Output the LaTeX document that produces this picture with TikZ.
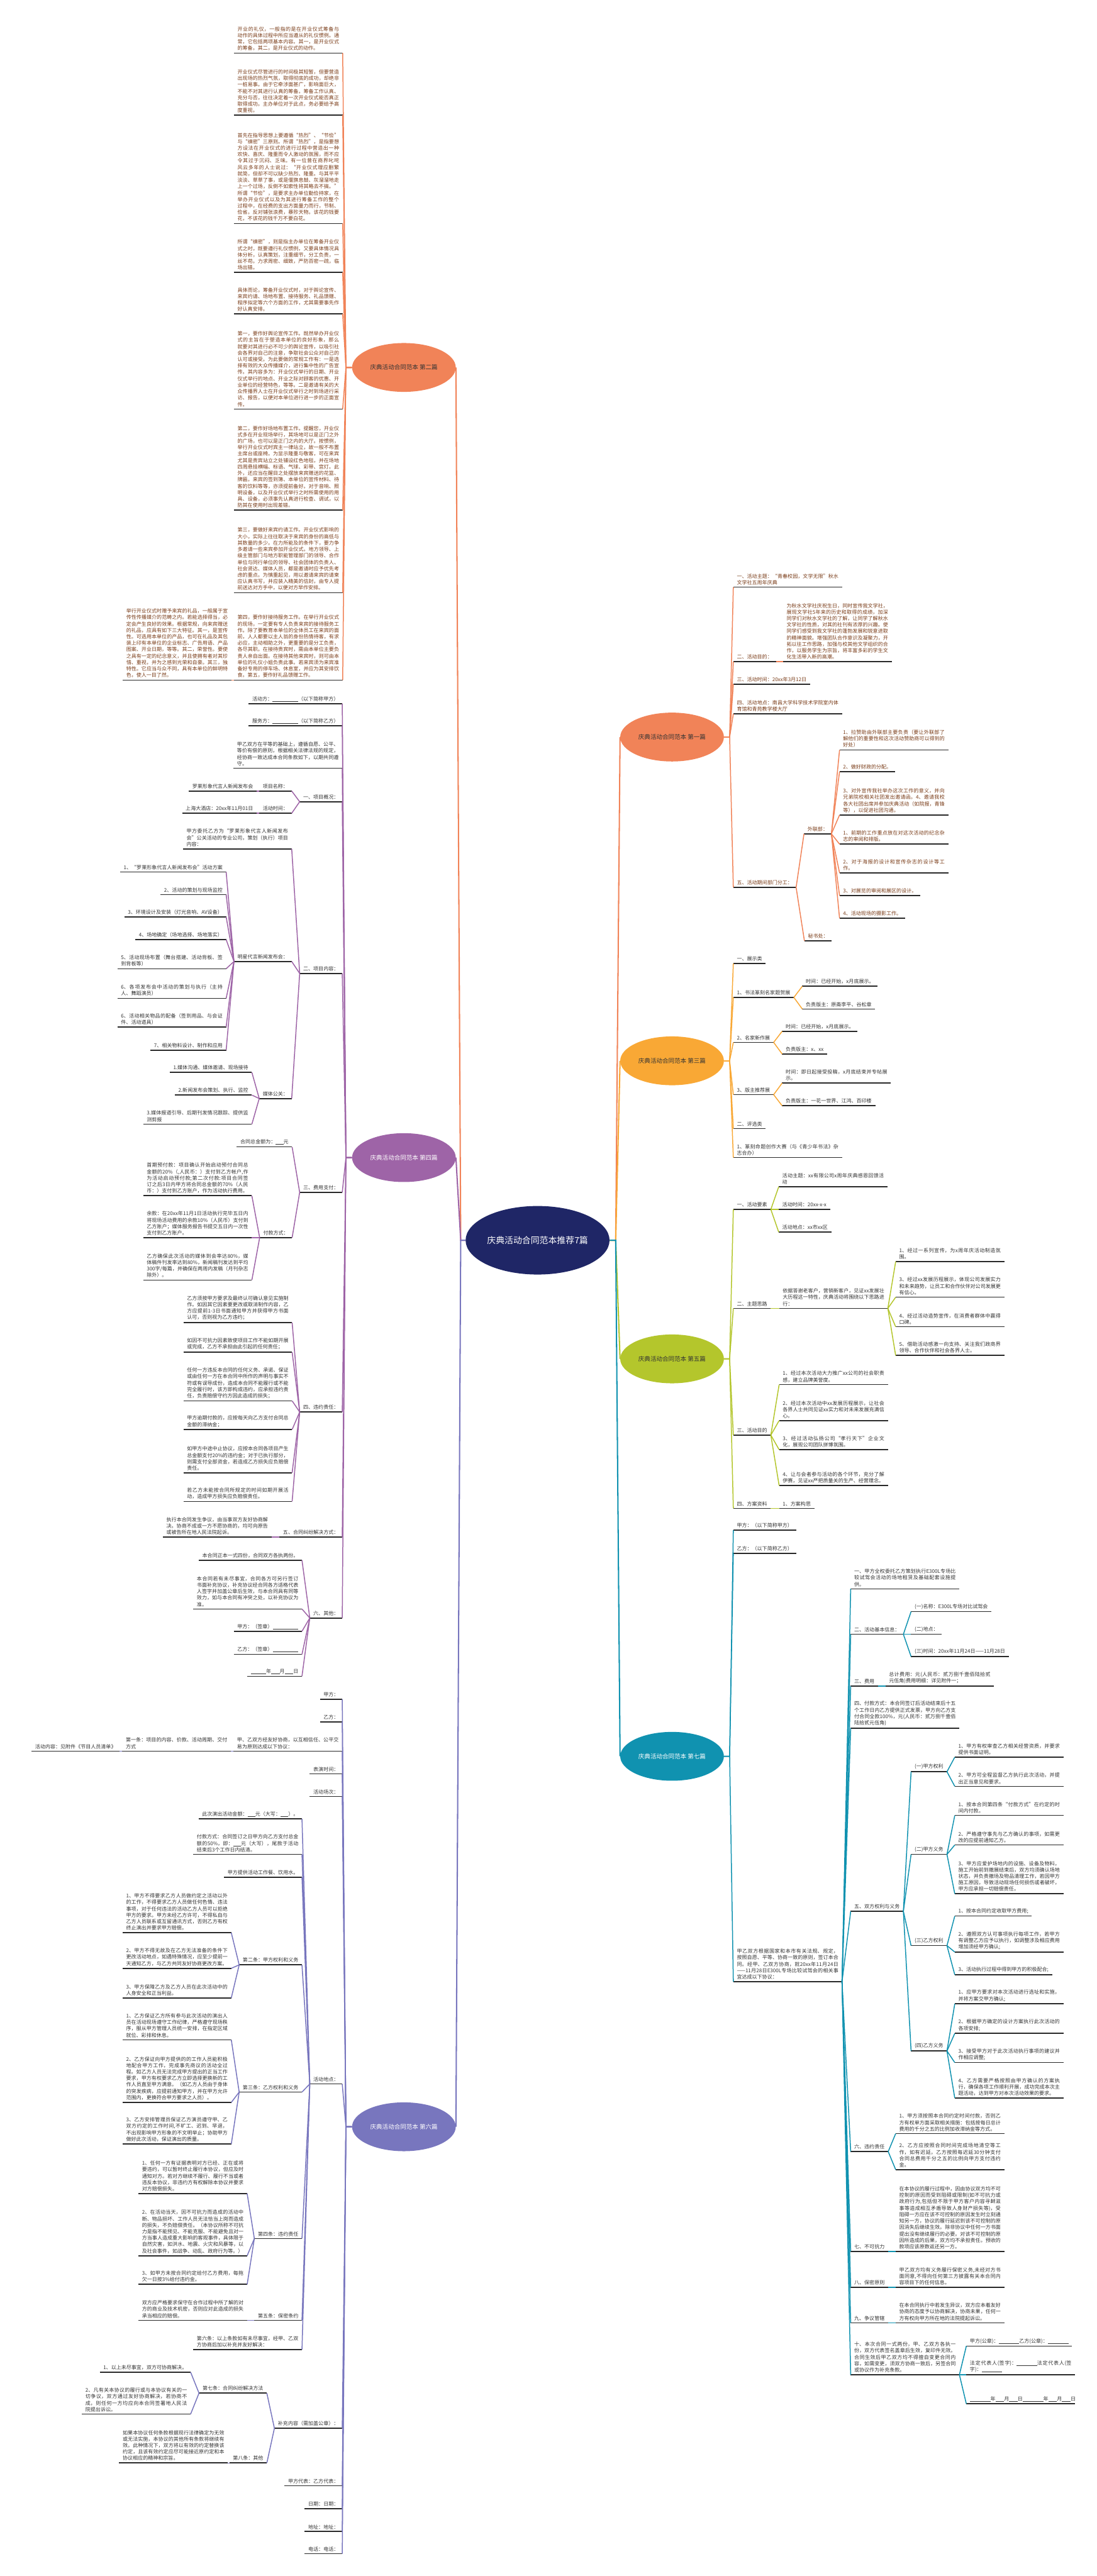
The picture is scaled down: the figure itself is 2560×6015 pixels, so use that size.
\documentclass[tikz,border=0pt]{standalone}
\usepackage{fontspec}
\setmainfont{Noto Sans CJK SC}
\usetikzlibrary{shapes.geometric}
\XeTeXlinebreaklocale "zh"
\XeTeXlinebreakskip=0pt plus 0.4pt

\definecolor{navy}{RGB}{31,38,102}
\definecolor{orng}{RGB}{241,131,88}
\definecolor{gold}{RGB}{249,168,53}
\definecolor{purp}{RGB}{158,100,167}
\definecolor{lime}{RGB}{180,198,44}
\definecolor{tealb}{RGB}{16,146,176}
\definecolor{peri}{RGB}{120,118,190}
\definecolor{ink}{RGB}{51,51,51}
\definecolor{inkb}{RGB}{122,60,24}
\definecolor{ulc}{RGB}{40,40,40}

\newcommand\tx{\fontsize{5.9pt}{7.5pt}\selectfont\parindent=0pt}
\newcommand\kong[1]{\rule[-0.8pt]{#1}{0.45pt}}

\tikzset{
  base/.style={inner xsep=4pt, inner ysep=2.5pt, font=\tx, text=ink,
    append after command={(\tikzlastnode.south west) edge[uline] (\tikzlastnode.south east)}},
  lf/.style={base, anchor=south east},
  rt/.style={base, anchor=south west},
  par/.style={text width=118.5pt, align=justify},
  uline/.style={draw=ulc, line width=1.2pt},
  link/.style={line width=1.1pt},
  topic/.style={ellipse, minimum width=121pt, minimum height=57pt, inner sep=0pt,
    font=\fontsize{7pt}{8.5pt}\selectfont},
}

\begin{document}
\begin{tikzpicture}[x=0.5pt, y=-0.5pt]
\useasboundingbox (0,0) rectangle (2560,6015);
\fill[white] (0,0) rectangle (2560,6015);

% centre and topics
\node[ellipse, fill=navy, minimum width=168pt, minimum height=80pt, inner sep=0pt,
  text=white, font=\fontsize{10.2pt}{12pt}\selectfont] (root) at (1255,2896) {庆典活动合同范本推荐7篇};

\node[topic, fill=orng, text=ink] (t2) at (943,858) {庆典活动合同范本 第二篇};
\node[topic, fill=purp, text=white] (t4) at (943,2703) {庆典活动合同范本 第四篇};
\node[topic, fill=peri, text=white] (t6) at (943,4966) {庆典活动合同范本 第六篇};
\node[topic, fill=orng, text=ink] (t1) at (1569,1721) {庆典活动合同范本 第一篇};
\node[topic, fill=gold, text=ink] (t3) at (1569,2477) {庆典活动合同范本 第三篇};
\node[topic, fill=lime, text=ink] (t5) at (1569,3173) {庆典活动合同范本 第五篇};
\node[topic, fill=tealb, text=white] (t7) at (1569,4101) {庆典活动合同范本 第七篇};

\foreach \t/\c in {t2/orng,t4/purp,t6/peri}
    \draw[link, \c, line width=1.5pt] (root.west) -- ++(-11,0) -- (\t.east);
\foreach \t/\c in {t1/orng,t3/gold,t5/lime,t7/tealb}
    \draw[link, \c, line width=1.5pt] (root.east) -- ++(14,0) -- (\t.west);

% 第二篇
\begin{scope}[base/.append style={text=inkb}]
\node[lf, par] (a1) at (800,124) {开业的礼仪，一般指的是在开业仪式筹备与动作的具体过程中所应当遵从的礼仪惯例。通常，它包括两项基本内容。其一，是开业仪式的筹备。其二，是开业仪式的动作。};
\node[lf, par] (a2) at (800,269) {开业仪式尽管进行的时间极其短暂，但要营造出现场的热烈气氛，取得彻底的成功，却绝非一桩易事。由于它牵涉面甚广，影响面巨大，不能不对其进行认真的筹备。筹备工作认真、充分与否，往往决定着一次开业仪式能否真正取得成功。主办单位对于此点，务必要给予高度重视。};
\node[lf, par] (a3) at (800,522) {首先在指导思想上要遵循“热烈”、“节俭”与“缜密”三原则。所谓“热烈”，是指要想方设法在开业仪式的进行过程中营造出一种欢快、喜庆、隆重而令人激动的氛围，而不应令其过于沉闷、乏味。有一位曾在商界叱咤风云多年的人士说过：“开业仪式理应删繁就简，但却不可以缺少热烈、隆重。与其平平淡淡、草草了事，或是偃旗息鼓、灰溜溜地走上一个过场，反倒不如索性将其略去不搞。”所谓“节俭”，是要求主办单位勤俭持家，在举办开业仪式以及为其进行筹备工作的整个过程中，在经费的支出方面量力而行，节制、俭省。反对铺张浪费，暴殄天物。该花的钱要花，不该花的钱千万不要白花。};
\node[lf, par] (a4) at (800,636) {所谓“缜密”，则是指主办单位在筹备开业仪式之时，既要遵行礼仪惯例，又要具体情况具体分析，认真策划，注重细节，分工负责，一丝不苟。力求周密、细致，严防百密一疏，临场出错。};
\node[lf, par] (a5) at (800,733) {具体而论，筹备开业仪式时，对于舆论宣传、来宾约请、场地布置、接待服务、礼品馈赠、程序拟定等六个方面的工作，尤其需要事先作好认真安排。};
\node[lf, par] (a6) at (800,955) {第一，要作好舆论宣传工作。既然举办开业仪式的主旨在于塑造本单位的良好形象，那么就要对其进行必不可少的舆论宣传，以吸引社会各界对自己的注意，争取社会公众对自己的认可或接受。为此要做的常规工作有：一是选择有效的大众传播媒介，进行集中性的广告宣传。其内容多为：开业仪式举行的日期、开业仪式举行的地点、开业之际对顾客的优惠、开业单位的经营特色，等等。二是邀请有关的大众传播界人士在开业仪式举行之时到场进行采访、报告，以便对本单位进行进一步的正面宣传。};
\node[lf, par] (a7) at (800,1191) {第二，要作好场地布置工作。提醒您，开业仪式多在开业现场举行，其场地可以是正门之外的广场，也可以是正门之内的大厅。按惯例，举行开业仪式时宾主一律站立，故一般不布置主席台或座椅。为显示隆重与敬客，可在来宾尤其是贵宾站立之处铺设红色地毯，并在场地四周悬挂横幅、标语、气球、彩带、宫灯。此外，还应当在醒目之处摆放来宾赠送的花篮、牌匾。来宾的签到簿、本单位的宣传材料、待客的饮料等等，亦须提前备好。对于音响、照明设备，以及开业仪式举行之时所需使用的用具、设备，必须事先认真进行检查、调试，以防其在使用时出现差错。};
\node[lf, par] (a8) at (800,1384) {第三，要做好来宾约请工作。开业仪式影响的大小，实际上往往取决于来宾的身份的高低与其数量的多少。在力所能及的条件下，要力争多邀请一些来宾参加开业仪式。地方领导、上级主管部门与地方职能管理部门的领导、合作单位与同行单位的领导、社会团体的负责人、社会贤达、媒体人员，都是邀请时应予优先考虑的重点。为慎重起见，用以邀请来宾的请柬应认真书写，并应装入精美的信封，由专人提前送达对方手中，以便对方早作安排。};
\node[lf, par] (a9) at (800,1588) {第四，要作好接待服务工作。在举行开业仪式的现场，一定要有专人负责来宾的接待服务工作。除了要教育本单位的全体员工在来宾的面前，人人都要以主人翁的身份热情待客，有求必应，主动相助之外，更重要的是分工负责，各尽其职。在接待贵宾时，需由本单位主要负责人亲自出面。在接待其他来宾时，则可由本单位的礼仪小姐负责此事。若来宾须为来宾准备好专用的停车场、休息室，并应为其安排饮食。第五，要作好礼品馈赠工作。};
\node[lf, par] (a10) at ([xshift=-3pt]a9.south west) {举行开业仪式时赠予来宾的礼品，一般属于宣传性传播媒介的范畴之内。若能选择得当，必定会产生良好的效果。根据常规，向来宾赠送的礼品，应具有如下三大特征。其一，是宣传性。可选用本单位的产品，也可在礼品及其包装上印有本单位的企业标志、广告用语、产品图案、开业日期，等等。其二，荣誉性。要使之具有一定的纪念意义，并且使拥有者对其珍惜、重视，并为之感到光荣和自豪。其三，独特性。它应当与众不同，具有本单位的鲜明特色，使人一目了然。};
\end{scope}

\foreach \n in {a1,a2,a3,a4,a5,a6,a7,a8,a9}
    \draw[link, orng] (t2.west) -- ++(-14,0) -- (\n.south east);
\draw[link, orng] (a9.south west) -- (a10.south east);

% 第四篇
\node[lf] (b1) at (799,1643) {活动方：\kong{30pt}（以下简称甲方）};
\node[lf] (b2) at (799,1695) {服务方：\kong{30pt}（以下简称乙方）};
\node[lf, par] (b3) at (799,1794) {甲乙双方在平等的基础上，遵循自愿、公平、等价有偿的原则，根据相关法律法规的规定，经协商一致达成本合同条款如下，以期共同遵守。};
\node[lf] (b4) at (799,1872) {一、项目概况：};
\node[lf] (b41) at (681,1847) {项目名称：};
\node[lf] (b41a) at ([xshift=-3pt]b41.south west) {罗莱形象代言人新闻发布会};
\node[lf] (b42) at (681,1899) {活动时间：};
\node[lf] (b42a) at ([xshift=-3pt]b42.south west) {上海大酒店：20xx年11月01日};
\node[lf] (b5) at (799,2273) {二、项目内容：};
\node[lf, par] (b51) at (681,1982) {甲方委托乙方为“罗莱形象代言人新闻发布会”公关活动的专业公司，策划（执行）项目内容：};
\node[lf] (b52) at (681,2245) {明星代言新闻发布会：};
\node[lf] (b521) at (528,2036) {1、“罗莱形象代言人新闻发布会”活动方案};
\node[lf] (b522) at (528,2089) {2、活动的策划与现场监控};
\node[lf] (b523) at (528,2141) {3、环境设计及安装（灯光音响、AV设备）};
\node[lf] (b524) at (528,2194) {4、场地确定（场地选择、场地落实）};
\node[lf, par] (b525) at (528,2262) {5、活动现场布置（舞台搭建、活动背板、签到背板等）};
\node[lf, par] (b526) at (528,2331) {6、各项发布会中活动的策划与执行（主持人、舞蹈演员）};
\node[lf, par] (b527) at (528,2398) {6、活动相关物品的配备（签到用品、与会证件、活动道具）};
\node[lf] (b528) at (528,2452) {7、相关物料设计、制作和应用};
\node[lf] (b53) at (681,2565) {媒体公关：};
\node[lf] (b531) at (588,2504) {1.媒体沟通、媒体邀请、现场接待};
\node[lf] (b532) at (588,2557) {2.新闻发布会策划、执行、监控};
\node[lf, par] (b533) at (588,2625) {3.媒体报道引导、后期刊发情况跟踪、提供监测剪报};
\node[lf] (b6) at (799,2784) {三、费用支付：};
\node[lf] (b61) at (682,2678) {合同总金额为：\kong{9pt}元};
\node[lf] (b62) at (682,2890) {付款方式：};
\node[lf, par] (b621) at (588,2792) {首期预付款：项目确认开始启动预付合同总金额的20\%（,人民币：）支付到乙方帐户,作为活动启动预付款;第二次付款:项目合同签订之后3日内甲方将合同总金额的70\%（人民币：）支付到乙方账户，作为活动执行费用。};
\node[lf, par] (b622) at (588,2890) {余款：在20xx年11月1日活动执行完毕五日内将现场活动费用的余款10\%（人民币）支付到乙方账户；媒体服务报告书提交五日内一次性支付到乙方账户。};
\node[lf, par] (b623) at (588,2989) {乙方确保此次活动的媒体到会率达80\%，媒体稿件刊发率达到80\%，新闻稿刊发达到平均300字/每篇，并确保在两周内发稿（月刊杂志除外）。};
\node[lf] (b7) at (799,3297) {四、违约责任：};
\node[lf, par] (b71) at (682,3088) {乙方须按甲方要求及最终认可确认意见实施制作。如因其它因素要更改或取消制作内容，乙方应提前1-3日书面通知甲方并获得甲方书面认可，否则视为乙方违约；};
\node[lf, par] (b72) at (682,3157) {如因不可抗力因素致使项目工作不能如期开展或完成，乙方不承担由此引起的任何责任；};
\node[lf, par] (b73) at (682,3271) {任何一方违反本合同的任何义务、承诺、保证或由任何一方在本合同中所作的声明与事实不符或有误导成份，造成本合同不能履行或不能完全履行时，该方即构成违约，应承担违约责任，负责赔偿守约方因此造成的损失；};
\node[lf, par] (b74) at (682,3338) {甲方逾期付款的，应按每天向乙方支付合同总金额的滞纳金；};
\node[lf, par] (b75) at (682,3439) {如甲方中途中止协议，应按本合同各项目产生总金额支付20\%的违约金；对于已执行部分，则需支付全部资金，若造成乙方损失应负赔偿责任。};
\node[lf, par] (b76) at (682,3506) {若乙方未能按合同所规定的时间如期开展活动，造成甲方损失应负赔偿责任。};
\node[lf] (b8) at (799,3589) {五、合同纠纷解决方式：};
\node[lf, par] (b81) at (634,3589) {执行本合同发生争议，由当事双方友好协商解决。协商不成或一方不愿协商的，均可向原告或被告所在地人民法院起诉。};
\node[lf] (b9) at (799,3778) {六、其他：};
\node[lf] (b91) at (705,3643) {本合同正本一式四份，合同双方各执两份。};
\node[lf, par] (b92) at (705,3757) {本合同若有未尽事宜，合同各方可另行签订书面补充协议，补充协议经合同各方适格代表人签字并加盖公章后生效，与本合同具有同等效力，如与本合同有冲突之处，以补充协议为准。};
\node[lf] (b93) at (705,3809) {甲方：（签章）\kong{30pt}};
\node[lf] (b94) at (705,3863) {乙方：（签章）\kong{30pt}};
\node[lf] (b95) at (705,3914) {\kong{18pt}年\kong{10pt}月\kong{10pt}日};

\foreach \n in {b1,b2,b3,b4,b5,b6,b7,b8,b9}
    \draw[link, purp] (t4.west) -- ++(-14,0) -- (\n.south east);
\foreach \p/\n in {b4/b41,b4/b42,b41/b41a,b42/b42a,b5/b51,b5/b52,b5/b53,
    b52/b521,b52/b522,b52/b523,b52/b524,b52/b525,b52/b526,b52/b527,b52/b528,
    b53/b531,b53/b532,b53/b533,b6/b61,b6/b62,b62/b621,b62/b622,b62/b623,
    b7/b71,b7/b72,b7/b73,b7/b74,b7/b75,b7/b76,b8/b81,
    b9/b91,b9/b92,b9/b93,b9/b94,b9/b95}
    \draw[link, purp] (\p.south west) -- (\n.south east);

% 第六篇
\node[lf] (d1) at (799,3968) {甲方：};
\node[lf] (d2) at (799,4021) {乙方：};
\node[lf, par] (d3) at (799,4089) {甲、乙双方经友好协商，以互相信任、公平交易为原则达成以下协议：};
\node[lf, par] (d31) at ([xshift=-3pt]d3.south west) {第一条：项目的内容、价款、活动周期、交付方式};
\node[lf] (d311) at ([xshift=-3pt]d31.south west) {活动内容：见附件《节目人员清单》};
\node[lf] (d4) at (799,4142) {表演时间：};
\node[lf] (d5) at (799,4195) {活动场次：};
\node[lf] (d6) at (799,4866) {活动地点：};
\node[lf] (d61) at (705,4247) {此次演出活动金额：\kong{9pt}元（大写：\kong{9pt}）。};
\node[lf, par] (d62) at (705,4330) {付款方式：合同签订之日甲方向乙方支付总金额的50\%，即：\kong{9pt}元（大写），尾款于活动结束后3个工作日内结清。};
\node[lf] (d63) at (705,4383) {甲方提供活动工作餐、饮用水。};
\node[lf] (d64) at (705,4588) {第二条：甲方权利和义务};
\node[lf, par] (d641) at (540,4513) {1、甲方不得要求乙方人员做约定之活动以外的工作，不得要求乙方人员做任何色情、违法事项，对于任何违法的活动乙方人员可以拒绝甲方的要求。甲方未经乙方许可，不得私自与乙方人员联系或互留通讯方式，否则乙方有权终止演出并要求甲方赔偿。};
\node[lf, par] (d642) at (540,4596) {2、甲方不得无故及在乙方无法准备的条件下更改活动地点，如遇特殊情况，应至少提前一天通知乙方，与乙方共同友好协商更改方案。};
\node[lf, par] (d643) at (540,4665) {3、甲方保障乙方及乙方人员在此次活动中的人身安全和正当利益。};
\node[lf] (d65) at (705,4885) {第三条：乙方权利和义务};
\node[lf, par] (d651) at (540,4763) {1、乙方保证乙方所有参与此次活动的演出人员在活动现场遵守工作纪律，严格遵守现场秩序，服从甲方管理人员统一安排，在指定区域就位、彩排和休息。};
\node[lf, par] (d652) at (540,4909) {2、乙方保证向甲方提供的的工作人员能积极地配合甲方工作，完成事先商议的活动全过程。如乙方人员无法完成甲方提出的正当工作要求，甲方有权要求乙方立即选择更换新的工作人员直至甲方满意。（如乙方人员由于身体的突发疾病，应提前通知甲方，并在甲方允许范围内，更换符合甲方要求之人员）。};
\node[lf, par] (d653) at (540,5006) {3、乙方安排管理员保证乙方演员遵守甲、乙双方约定的工作时间,不旷工、迟到、早退，不出现影响甲方形象的不文明举止；协助甲方做好此次活动，保证演出的质量。};
\node[lf] (d66) at (705,5227) {第四条：违约责任};
\node[lf, par] (d661) at (577,5122) {1、任何一方有证据表明对方已经、正在或将要违约，可以暂时终止履行本协议，但应及时通知对方。若对方继续不履行、履行不当或者违反本协议，非违约方有权解除本协议并要求对方赔偿损失。};
\node[lf, par] (d662) at (577,5267) {2、在活动当天，因不可抗力而造成的活动中断、物品损坏、工作人员无法恰当上岗而造成的损失，不负赔偿责任。（本协议所称不可抗力是指不能预见、不能克服、不能避免且对一方当事人造成重大影响的客观事件，具体限于自然灾害，如洪水、地震、火灾和风暴等，以及社会事件，如战争、动乱、政府行为等。）};
\node[lf, par] (d663) at (577,5334) {3、如甲方未按合同约定给付乙方费用，每拖欠一日按3\%给付违约金。};
\node[lf] (d67) at (705,5418) {第五条：保密条约};
\node[lf, par] (d671) at (577,5418) {双方应严格要求保守在合作过程中所了解的对方的商业及技术机密，否则应对此造成的损失承当相应的赔偿。};
\node[lf, par] (d68) at (705,5486) {第六条：以上条款如有未尽事宜，经甲、乙双方协商后加以补充并友好解决：};
\node[lf] (d7) at (799,5670) {补充内容（需加盖公章）：};
\node[lf] (d71) at (623,5588) {第七条：合同纠纷解决方法};
\node[lf] (d711) at (445,5539) {1、以上未尽事宜，双方可协商解决。};
\node[lf, par] (d712) at (445,5637) {2、凡有关本协议的履行或与本协议有关的一切争议，双方通过友好协商解决，若协商不成，则任何一方均应向本合同签署地人民法院提出诉讼。};
\node[lf] (d72) at (623,5751) {第八条：其他};
\node[lf, par] (d721) at (532,5751) {如果本协议任何条款根据现行法律确定为无效或无法实施，本协议的其他所有条款将继续有效。此种情况下，双方将以有效的约定替换该约定，且该有效约定应尽可能接近原约定和本协议相应的精神和宗旨。};
\node[lf] (d8) at (799,5804) {甲方代表：乙方代表：};
\node[lf] (d9) at (799,5858) {日期：日期：};
\node[lf] (d10) at (799,5911) {地址：地址：};
\node[lf] (d11) at (799,5963) {电话：电话：};

\foreach \n in {d1,d2,d3,d4,d5,d6,d7,d8,d9,d10,d11}
    \draw[link, peri] (t6.west) -- ++(-14,0) -- (\n.south east);
\foreach \p/\n in {d3/d31,d31/d311,d6/d61,d6/d62,d6/d63,d6/d64,d6/d65,d6/d66,d6/d67,d6/d68,
    d64/d641,d64/d642,d64/d643,d65/d651,d65/d652,d65/d653,d66/d661,d66/d662,d66/d663,
    d67/d671,d7/d71,d7/d72,d71/d711,d71/d712,d72/d721}
    \draw[link, peri] (\p.south west) -- (\n.south east);

% 第一篇
\begin{scope}[base/.append style={text=inkb}]
\node[rt, par] (e1) at (1712,1371) {一、活动主题：“青春校园，文学无限”秋水文学社五周年庆典};
\node[rt] (e2) at (1712,1545) {二、活动目的：};
\node[rt, par] (e21) at (1828,1545) {为秋水文学社庆祝生日，同时宣传我文学社，展现文学社5年来的历史和取得的成绩，加深同学们对秋水文学社的了解，让同学了解秋水文学社的性质，对其的社刊有浓厚的兴趣。使同学们感受到我文学社的蓬勃发展和锐意进取的精神面貌。增强团队合作意识及凝聚力，开拓以往工作思路，加强与校其他文学组织的合作，以服务学生为宗旨，将丰富多彩的学生文化生活带入新的高潮。};
\node[rt] (e3) at (1712,1598) {三、活动时间：20xx年3月12日};
\node[rt, par] (e4) at (1712,1667) {四、活动地点：南昌大学科学技术学院室内体育馆和青苑教学楼大厅};
\node[rt] (e5) at (1712,2072) {五、活动期间部门分工：};
\node[rt] (e51) at (1877,1947) {外联部：};
\node[rt, par] (e511) at (1960,1751) {1、拉赞助由外联部主要负责（要让外联部了解他们的重要性和这次活动赞助商可以得到的好处）};
\node[rt] (e512) at (1960,1802) {2、做好财政的分配。};
\node[rt, par] (e513) at (1960,1903) {3、对外宣传我社举办这次工作的意义，并向兄弟院校相关社团发出邀请函。4、邀请我校各大社团出席并参加庆典活动（如院报，青锋等），以促进社团沟通。};
\node[rt, par] (e514) at (1960,1971) {1、前期的工作重点放在对这次活动的纪念杂志的审阅和排版。};
\node[rt, par] (e515) at (1960,2038) {2、对于海报的设计和宣传杂志的设计等工作。};
\node[rt] (e516) at (1960,2091) {3、对展览的审阅和展区的设计。};
\node[rt] (e517) at (1960,2144) {4、活动现场的摄影工作。};
\node[rt] (e52) at (1878,2197) {秘书处：};
\end{scope}

\foreach \n in {e1,e2,e3,e4,e5}
    \draw[link, orng] (t1.east) -- ++(13,0) -- (\n.south west);
\foreach \p/\n in {e2/e21,e5/e51,e5/e52,e51/e511,e51/e512,e51/e513,e51/e514,e51/e515,e51/e516,e51/e517}
    \draw[link, orng] (\p.south east) -- (\n.south west);

% 第三篇
\node[rt] (f1) at (1712,2250) {一、展示类};
\node[rt] (f2) at (1712,2329) {1、书法篆刻名家题贺展};
\node[rt] (f21) at (1873,2303) {时间：已经开始，x月底展示。};
\node[rt] (f22) at (1873,2356) {负责版主：原斋李平、谷松章};
\node[rt] (f3) at (1712,2434) {2、名家新作展};
\node[rt] (f31) at (1826,2408) {时间：已经开始，x月底展示。};
\node[rt] (f32) at (1826,2461) {负责版主：x、xx};
\node[rt] (f4) at (1712,2556) {3、版主推荐展};
\node[rt, par] (f41) at (1826,2529) {时间：即日起接受投稿，x月底结束并专帖展示。};
\node[rt] (f42) at (1826,2582) {负责版主：一花一世界、江鸿、百印楼};
\node[rt] (f5) at (1712,2635) {二、评选类};
\node[rt, par] (f6) at (1712,2703) {1、篆刻命题创作大赛（与《青少年书法》杂志合办）};

\foreach \n in {f1,f2,f3,f4,f5,f6}
    \draw[link, gold] (t3.east) -- ++(13,0) -- (\n.south west);
\foreach \p/\n in {f2/f21,f2/f22,f3/f31,f3/f32,f4/f41,f4/f42}
    \draw[link, gold] (\p.south east) -- (\n.south west);

% 第五篇
\node[rt] (g1) at (1712,2824) {一、活动要素};
\node[rt, par] (g11) at (1818,2771) {活动主题：xx有限公司x周年庆典感恩回馈活动};
\node[rt] (g12) at (1818,2824) {活动时间：20xx-x-x};
\node[rt] (g13) at (1818,2877) {活动地点：xx市xx区};
\node[rt] (g2) at (1712,3055) {二、主题思路};
\node[rt, par] (g21) at (1819,3055) {依据答谢老客户，营销新客户，见证xx发展壮大历程这一特性，庆典活动将围绕以下思路进行：};
\node[rt, par] (g211) at (2091,2946) {1、经过一系列宣传，为x周年庆活动制造氛围。};
\node[rt, par] (g212) at (2091,3029) {3、经过xx发展历程展示，体现公司发展实力和未来趋势，让员工和合作伙伴对公司发展更有信心。};
\node[rt, par] (g213) at (2091,3098) {4、经过活动造势宣传，在消费者群体中赢得口碑。};
\node[rt, par] (g214) at (2091,3165) {5、借助活动感激一向支持、关注我们政商界领导、合作伙伴和社会各界人士。};
\node[rt] (g3) at (1712,3351) {三、活动目的};
\node[rt, par] (g31) at (1819,3233) {1、经过本次活动大力推广xx公司的社会职责感，建立品牌美誉度。};
\node[rt, par] (g32) at (1819,3317) {2、经过本次活动中xx发展历程展示，让社会各界人士共同见证xx实力和对未来发展充满信心。};
\node[rt, par] (g33) at (1819,3385) {3、经过活动弘扬公司“孝行天下”企业文化，展现公司团队拼博氛围。};
\node[rt, par] (g34) at (1819,3469) {4、让与会者参与活动的各个环节，充分了解伊赛，见证xx严把质量关的生产、经营理念。};
\node[rt] (g4) at (1712,3522) {四、方案资料};
\node[rt] (g41) at (1819,3522) {1、方案构思};

\foreach \n in {g1,g2,g3,g4}
    \draw[link, lime] (t5.east) -- ++(13,0) -- (\n.south west);
\foreach \p/\n in {g1/g11,g1/g12,g1/g13,g2/g21,g21/g211,g21/g212,g21/g213,g21/g214,
    g3/g31,g3/g32,g3/g33,g3/g34,g4/g41}
    \draw[link, lime] (\p.south east) -- (\n.south west);

% 第七篇
\node[rt] (h1) at (1712,3573) {甲方：（以下简称甲方）};
\node[rt] (h2) at (1712,3627) {乙方：（以下简称乙方）};
\node[rt, par] (h3) at (1712,4627) {甲乙双方根据国家和本市有关法规、规定，按照自愿、平等、协商一致的原则，签订本合同。经甲、乙双方协商，就20xx年11月24日——11月28日E300L专场比较试驾会的相关事宜达成以下协议：};
\node[rt, par] (h31) at (1986,3710) {一、甲方全权委托乙方策划执行E300L专场比较试驾会活动的场地租赁及基础配套设施提供。};
\node[rt] (h32) at (1986,3816) {二、活动基本信息：};
\node[rt] (h321) at (2127,3763) {(一)名称：E300L专场对比试驾会};
\node[rt] (h322) at (2127,3816) {(二)地点：};
\node[rt] (h323) at (2127,3868) {(三)时间：20xx年11月24日——11月28日};
\node[rt] (h33) at (1986,3937) {三、费用};
\node[rt, par] (h331) at (2067,3937) {总计费用：元(人民币：贰万捌千壹佰陆拾贰元伍角)费用明细：详见附件一；};
\node[rt, par] (h34) at (1986,4035) {四、付款方式：本合同签订后活动结束后十五个工作日内乙方提供正式发票，甲方向乙方支付合同全款100\%，元(人民币：贰万捌千壹佰陆拾贰元伍角)};
\node[rt] (h35) at (1986,4463) {五、双方权利与义务};
\node[rt] (h351) at (2127,4137) {(一)甲方权利};
\node[rt, par] (h3511) at (2229,4103) {1、甲方有权审查乙方相关经营资质，并要求提供书面证明。};
\node[rt, par] (h3512) at (2229,4171) {2、甲方可全程监督乙方执行此次活动，并提出正当意见和要求。};
\node[rt] (h352) at (2127,4330) {(二)甲方义务};
\node[rt, par] (h3521) at (2229,4239) {1、按本合同第四条“付款方式”在约定的时间内付款。};
\node[rt, par] (h3522) at (2229,4308) {2、严格遵守事先与乙方确认的事项，如需更改的应提前通知乙方。};
\node[rt, par] (h3523) at (2229,4422) {3、甲方应爱护场地内的设施、设备及物料，施工开始前到撤展结束后，双方均须确认场地状态，并负责撤场及物品清理工作，若因甲方施工原因，导致活动现场任何损伤或者破坏，甲方应承担一切赔偿责任。};
\node[rt] (h353) at (2127,4543) {(三)乙方权利};
\node[rt] (h3531) at (2229,4474) {1、按本合同约定收取甲方费用;};
\node[rt, par] (h3532) at (2229,4558) {2、遵照双方认可事项执行每项工作，若甲方有调整乙方应予以执行，如调整涉及相应费用增加须经甲方确认;};
\node[rt] (h3533) at (2229,4611) {3、活动执行过程中得到甲方的积极配合;};
\node[rt] (h354) at (2127,4789) {(四)乙方义务};
\node[rt, par] (h3541) at (2229,4679) {1、应甲方要求对本次活动进行选址和实施，并将方案交甲方确认;};
\node[rt, par] (h3542) at (2229,4748) {2、根据甲方确定的设计方案执行此次活动的各项安排;};
\node[rt, par] (h3543) at (2229,4816) {3、接受甲方对于此次活动执行事项的建议并作相应调整;};
\node[rt, par] (h3544) at (2229,4899) {4、乙方需要严格按照由甲方确认的方案执行，确保各项工作顺利开展，成功完成本次主题活动，达到甲方对本次活动效果的要求。};
\node[rt] (h36) at (1986,5024) {六、违约责任};
\node[rt, par] (h361) at (2091,4982) {1、甲方须按照本合同约定时间付款，否则乙方有权单方面采取相关措施：包括按每日总计费用的千分之五的比例加收滞纳金等方式。};
\node[rt, par] (h362) at (2091,5066) {2、乙方应按照合同时间完成场地清空等工作，如有迟延，乙方按照每迟延30分钟支付合同总费用千分之五的比例向甲方支付违约金。};
\node[rt] (h37) at (1986,5257) {七、不可抗力};
\node[rt, par] (h371) at (2091,5257) {在本协议的履行过程中，因由协议双方均不可控制的原因而受到阻碍或限制(如不可抗力或政府行为,包括但不限于甲方客户内容寻衅滋事等造成相互矛盾导致人身财产损失等)，受阻碍一方应在该不可控制的原因发生时立刻通知另一方，协议的履行延迟到该不可控制的原因消失后继续生效。除非协议中任何一方书面提出没有继续履行的必要。对该不可控制的原因所造成的后果，双方均不承担责任。预收的款项应该原数返还另一方。};
\node[rt] (h38) at (1986,5341) {八、保密原则};
\node[rt, par] (h381) at (2091,5341) {甲乙双方均有义务履行保密义务,未经对方书面同意,不得向任何第三方披露有关本合同内容项目下的任何信息。};
\node[rt] (h39) at (1986,5424) {九、争议管辖};
\node[rt, par] (h391) at (2091,5424) {在本合同执行中若发生异议，双方应本着友好协商的态度予以协商解决，协商未果，任何一方有权向甲方所在地的法院提起诉讼。};
\node[rt, par] (h310) at (1986,5545) {十、本次合同一式两份，甲、乙双方各执一份，双方代表签名盖章后生效，复印件无效。合同生效后甲乙双方均不得擅自变更合同内容，如需变更，须双方协商一致后，另签合同或协议作为补充条款。};
\node[rt] (h3101) at (2256,5478) {甲方(公章)：\kong{24pt}乙方(公章)：\kong{24pt}};
\node[rt, par] (h3102) at (2256,5545) {法定代表人(签字)：\kong{24pt}法定代表人(签字)：\kong{24pt}};
\node[rt, par] (h3103) at (2256,5613) {\kong{24pt}年\kong{10pt}月\kong{10pt}日\kong{24pt}年\kong{10pt}月\kong{10pt}日};

\foreach \n in {h1,h2,h3}
    \draw[link, tealb] (t7.east) -- ++(13,0) -- (\n.south west);
\foreach \p/\n in {h3/h31,h3/h32,h3/h33,h3/h34,h3/h35,h3/h36,h3/h37,h3/h38,h3/h39,h3/h310,
    h32/h321,h32/h322,h32/h323,h33/h331,h35/h351,h35/h352,h35/h353,h35/h354,
    h351/h3511,h351/h3512,h352/h3521,h352/h3522,h352/h3523,
    h353/h3531,h353/h3532,h353/h3533,h354/h3541,h354/h3542,h354/h3543,h354/h3544,
    h36/h361,h36/h362,h37/h371,h38/h381,h39/h391,h310/h3101,h310/h3102,h310/h3103}
    \draw[link, tealb] (\p.south east) -- (\n.south west);

\end{tikzpicture}
\end{document}
